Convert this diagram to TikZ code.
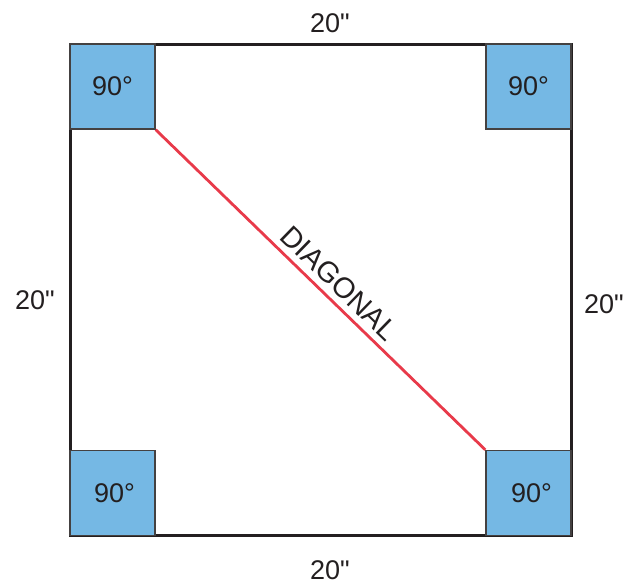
\documentclass[tikz,border=0pt]{standalone}
\usepackage{fontspec}
\newfontfamily\helv{Liberation Sans}
\usepackage{tikz}
\definecolor{cBox}{RGB}{117,184,228}
\definecolor{cDiag}{RGB}{232,58,74}
\definecolor{cEdge}{RGB}{35,31,32}
\newcommand{\inch}{20"}

\begin{document}
\begin{tikzpicture}[x=1pt,y=-1pt,
  corner/.style={draw=cEdge!85,line width=1.3pt,fill=cBox,minimum size=85pt,inner sep=0pt,
    font=\helv\fontsize{27}{30}\selectfont,text=cEdge},
  dim/.style={font=\helv\fontsize{27}{30}\selectfont,text=cEdge}]
\useasboundingbox (0,0) rectangle (625,584);
\draw[cEdge,line width=3pt] (70,44) rectangle (571,535);
\node[corner] (tl) at (112.5,86.5) {90°};
\node[corner] (tr) at (528.5,86.5) {90°};
\node[corner] (bl) at (112.5,493) {\hspace{4pt}90°};
\node[corner] (br) at (528.5,493) {\hspace{6pt}90°};
\draw[cDiag,line width=2.8pt] (tl.south east) -- node[dim,font=\helv\fontsize{29}{30}\selectfont,sloped,above=3pt,pos=0.52] (diag) {DIAGONAL} (br.north west);
\node[dim] (top) at (330,23) {\inch};
\node[dim] (bottom) at (330,570) {\inch};
\node[dim] (left) at (35,300) {\inch};
\node[dim] (right) at (604,304) {\inch};
\end{tikzpicture}
\end{document}
